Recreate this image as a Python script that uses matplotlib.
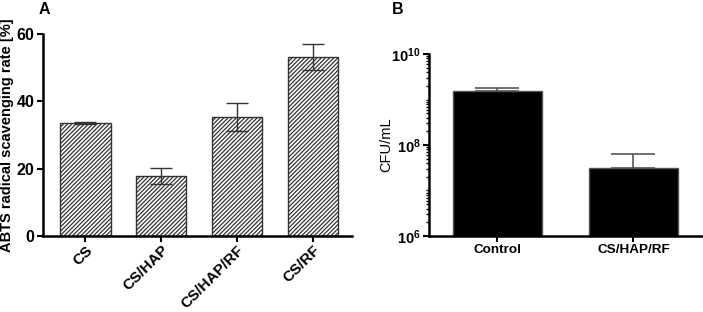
import numpy as np
import matplotlib
matplotlib.use("Agg")
import matplotlib.pyplot as plt
from matplotlib.ticker import LogLocator, FixedLocator, NullFormatter

plt.rcParams["font.family"] = ["Liberation Sans", "DejaVu Sans"]
plt.rcParams["mathtext.fontset"] = "custom"
plt.rcParams["mathtext.rm"] = "Liberation Sans"
plt.rcParams["mathtext.bf"] = "Liberation Sans:bold"
plt.rcParams["hatch.linewidth"] = 0.9

# Painel A — ABTS
grupos_a = ["CS", "CS/HAP", "CS/HAP/RF", "CS/RF"]
abts = [33.6, 17.9, 35.3, 53.1]
abts_err = [0.2, 2.4, 4.1, 3.9]

# Painel B — CFU
grupos_b = ["Control", "CS/HAP/RF"]
cfu = [1.54e9, 3.1e7]
cfu_err = [0.28e9, 3.1e7]

fig = plt.figure(figsize=(7.03, 3.12), dpi=100)

# ---- A ----
axA = fig.add_axes([0.0612, 0.2436, 0.4395, 0.6474])
x = np.arange(len(grupos_a))
axA.bar(x, abts, width=0.67, color="white", edgecolor="#333333",
        hatch="////////", linewidth=1.0, zorder=2)
axA.errorbar(x, abts, yerr=abts_err, fmt="none", ecolor="#333333",
             elinewidth=1.0, capsize=8, capthick=1.0, zorder=3)
axA.set_xlim(-0.553, 3.513)
axA.set_ylim(0, 60)
axA.set_yticks([0, 20, 40, 60])
axA.set_xticks(x)
axA.set_xticklabels(grupos_a, rotation=45, ha="right", rotation_mode="anchor",
                    fontsize=11, fontweight="bold")
for lb in axA.get_yticklabels():
    lb.set_fontsize(11.5)
    lb.set_fontweight("bold")
axA.set_ylabel("ABTS radical scavenging rate [%]", fontsize=10.5,
               fontweight="bold")
axA.yaxis.set_label_coords(-0.094, 0.5)
axA.spines[["top", "right"]].set_visible(False)
axA.spines[["left", "bottom"]].set_linewidth(1.8)
axA.tick_params(width=1.5, length=4, pad=2)
axA.tick_params(axis="x", pad=1)

# ---- B ----
axB = fig.add_axes([0.610, 0.2436, 0.390, 0.5833])
xb = np.arange(len(grupos_b))
axB.bar(xb, cfu, width=0.65, color="black", edgecolor="#555555",
        linewidth=1.0, zorder=2)
axB.errorbar(xb, cfu, yerr=[[0, 0], cfu_err], fmt="none", ecolor="#555555",
             elinewidth=1.2, capsize=16, capthick=1.2, zorder=3)
axB.set_yscale("log")
axB.set_ylim(1e6, 1e10)
axB.set_xlim(-0.504, 1.511)
axB.yaxis.set_major_locator(FixedLocator([1e6, 1e8, 1e10]))
axB.yaxis.set_minor_locator(LogLocator(base=10, subs=np.arange(1, 10)))
axB.yaxis.set_minor_formatter(NullFormatter())
axB.set_yticklabels([r"$\mathbf{10^{6}}$", r"$\mathbf{10^{8}}$", r"$\mathbf{10^{10}}$"],
                    fontsize=10.5)
axB.set_xticks(xb)
axB.set_xticklabels(grupos_b, fontsize=9.7, fontweight="bold")
axB.set_ylabel("CFU/mL", fontsize=10.5)
axB.yaxis.set_label_coords(-0.13, 0.5)
axB.spines[["top", "right"]].set_visible(False)
axB.spines[["left", "bottom"]].set_linewidth(1.8)
axB.tick_params(axis="both", which="major", width=1.5, length=4, pad=2)
axB.tick_params(axis="y", which="minor", width=1.0, length=2.5)

fig.text(0.063, 0.97, "A", fontsize=11.5, fontweight="bold", ha="center", va="center")
fig.text(0.566, 0.97, "B", fontsize=11.5, fontweight="bold", ha="center", va="center")

plt.savefig("out.png", dpi=100)
plt.close()
